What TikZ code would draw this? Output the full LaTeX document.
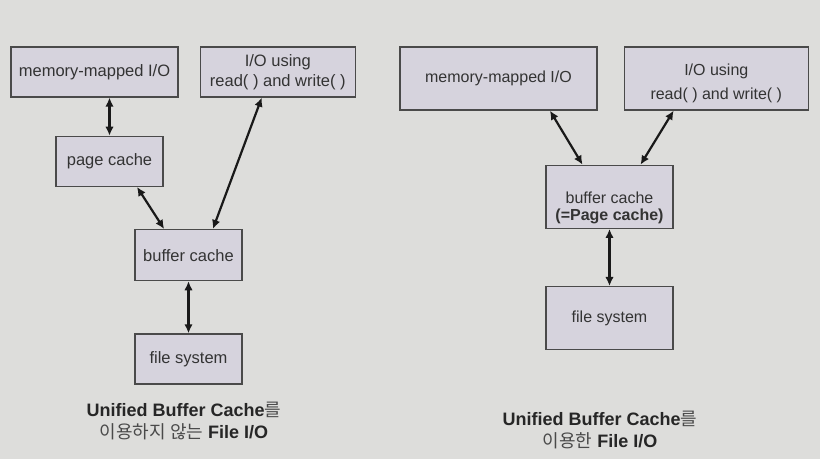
\documentclass[tikz,border=0pt]{standalone}
\usepackage{fontspec}
\setmainfont{Liberation Sans}
\newfontfamily\krfont{Noto Sans CJK KR}
\usetikzlibrary{backgrounds}
\usetikzlibrary{arrows.meta}
\usetikzlibrary{positioning}
\definecolor{slidebg}{HTML}{DDDDDB}
\definecolor{boxfill}{HTML}{D6D3DD}
\definecolor{boxline}{HTML}{4A4A4A}
\definecolor{boxtext}{HTML}{333333}
\definecolor{krgray}{HTML}{4A4A4A}
\newcommand{\kr}[1]{{\mdseries\krfont\color{krgray}#1}}

\begin{document}
\begin{tikzpicture}[
    x=1pt, y=-1pt,
    show background rectangle,
    tight background=0,
    background rectangle/.style={fill=slidebg},
    blk/.style={draw=boxline, line width=1.3pt, fill=boxfill, text=boxtext, inner sep=0pt, align=center},
    blkL/.style={blk, font=\fontsize{16.5}{19.5}\selectfont, minimum height=50pt},
    blkR/.style={blk, font=\fontsize{16}{24}\selectfont, minimum height=63pt},
    link/.style={<->, >={Latex[length=9pt,width=8.5pt]}, line width=2.2pt, draw=black!90},
    capt/.style={align=center, font=\fontsize{18}{22}\selectfont\bfseries, text=black!85},
 ]
    \useasboundingbox (0,0) rectangle (820,459);
    % without the unified buffer cache
    \node[blkL, minimum width=167pt] (mmapL) at (94.5,72) {memory-mapped I/O};
    \node[blkL, minimum width=155pt, right=21pt of mmapL] (rwL) {I/O using\\read( ) and write( )};
    \node[blkL, minimum width=107pt, below=38pt of mmapL, xshift=15pt] (pageL) {page cache};
    \node[blkL, minimum width=107pt, minimum height=51pt, below=42pt of pageL, xshift=79pt] (bufL) {buffer cache};
    \node[blkL, minimum width=107pt, below=52pt of bufL] (fsL) {file system};

    \draw[link] (pageL.north) -- (pageL.north |- mmapL.south);
    \draw[link] (pageL.-43) -- (bufL.133);
    \draw[link] (rwL.-122) -- (bufL.47);
    \draw[link] (bufL) -- (fsL);

    \node[capt] (captL) at (184,421) {Unified Buffer Cache\kr{를}\\\kr{이용하지 않는} File I/O};

    % with the unified buffer cache
    \node[blkR, minimum width=197pt] (mmapR) at (498.5,78.5) {memory-mapped I/O};
    \node[blkR, minimum width=184pt, right=26pt of mmapR, text height=46pt] (rwR) {I/O using\\read( ) and write( )};
    \node[blkR, minimum width=127pt, below=54pt of mmapR, xshift=111pt, font=\fontsize{16}{17}\selectfont, text height=50pt] (bufR) {buffer cache\\\textbf{(=Page cache)}};
    \node[blkR, minimum width=127pt, below=57pt of bufR] (fsR) {file system};

    \draw[link] (mmapR.-32) -- (bufR.130);
    \draw[link] (rwR.-143) -- (bufR.46);
    \draw[link] (bufR) -- (fsR);

    \node[capt] (captR) at (600,430) {Unified Buffer Cache\kr{를}\\\kr{이용한} File I/O};

\end{tikzpicture}
\end{document}
